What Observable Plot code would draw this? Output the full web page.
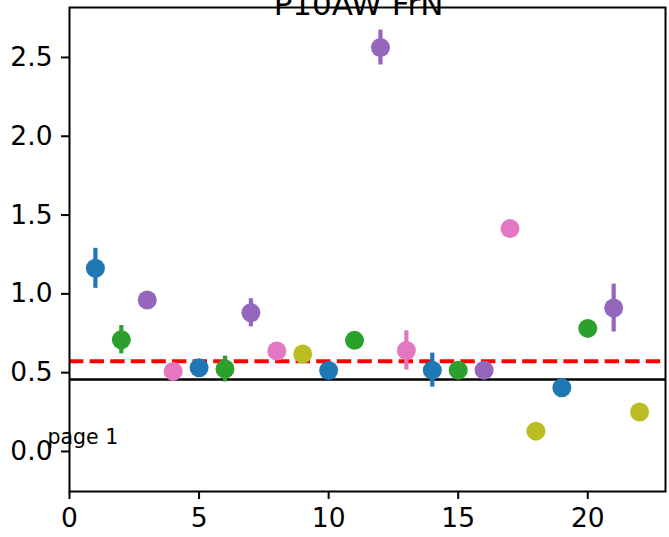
<!DOCTYPE html>
<html>
<head>
<meta charset="utf-8">
<script src="https://cdn.jsdelivr.net/npm/d3@7"></script>
<script src="https://cdn.jsdelivr.net/npm/@observablehq/plot@0.6"></script>
<style>
  html, body { margin: 0; padding: 0; background: white; }
  #chart { width: 669px; height: 537px; overflow: hidden; }
</style>
</head>
<body>
<div id="chart"></div>
<script>
const xs = [1,2,3,4,5,6,7,8,9,10,11,12,13,14,15,16,17,18,19,20,21,22];
const ys = [1.162,0.709,0.961,0.508,0.531,0.523,0.880,0.637,0.618,0.514,0.705,2.563,0.641,0.516,0.516,0.516,1.414,0.129,0.404,0.781,0.910,0.250];
const errs = [0.127,0.090,0,0,0,0.082,0.089,0,0,0,0,0.111,0.125,0.108,0,0,0,0,0,0,0.152,0];
const groups = ["s1","s2","s3","s4","s1","s2","s3","s4","s5","s1","s2","s3","s4","s1","s2","s3","s4","s5","s1","s2","s3","s5"];
const groupNames = ["s1","s2","s3","s4","s5"];
const groupColors = ["#1f77b4","#2ca02c","#9467bd","#e377c2","#bcbd22"];
const xTicks = [0,5,10,15,20];
const yTicks = [0,0.5,1.0,1.5,2.0,2.5];
const blackLine = 0.457;
const redLine = 0.573;
const titleText = "P10AW FrN";
const noteText = "page 1";

const data = xs.map((x, i) => ({x, y: ys[i], e: errs[i], g: groups[i]}));
const errData = data.filter(d => d.e > 0);

const chart = Plot.plot({
  width: 669,
  height: 537,
  marginLeft: 69,
  marginRight: 4,
  marginTop: 7,
  marginBottom: 46,
  style: {fontFamily: "DejaVu Sans", background: "white", overflow: "visible"},
  x: {domain: [0, 23]},
  y: {domain: [-0.254, 2.817]},
  color: {type: "ordinal", domain: groupNames, range: groupColors},
  marks: [
    Plot.ruleY([blackLine], {stroke: "black", strokeWidth: 2.5}),
    Plot.ruleY([redLine], {stroke: "red", strokeWidth: 4, strokeDasharray: "14.4,6.2"}),
    Plot.ruleX(errData, {x: "x", y1: d => d.y - d.e, y2: d => d.y + d.e, stroke: "g", strokeWidth: 4.2}),
    Plot.dot(data, {x: "x", y: "y", fill: "g", r: 9.5}),
    Plot.frame({stroke: "black", strokeWidth: 2}),
    Plot.axisX({ticks: xTicks, tickSize: 8, tickPadding: 9, fontSize: 26.5, label: null, strokeWidth: 2}),
    Plot.axisY({ticks: yTicks, tickSize: 8, tickPadding: 9, fontSize: 26.5, label: null, tickFormat: d3.format(".1f"), strokeWidth: 2}),
    Plot.text([titleText], {frameAnchor: "top", text: d => d, dx: -9, dy: 7, lineAnchor: "bottom", fontSize: 31, fill: "black"}),
    Plot.text([noteText], {frameAnchor: "bottom-left", text: d => d, dx: -22, dy: -48, textAnchor: "start", lineAnchor: "bottom", fontSize: 20.5, fill: "black"})
  ]
});
document.getElementById("chart").appendChild(chart);
</script>
</body>
</html>
